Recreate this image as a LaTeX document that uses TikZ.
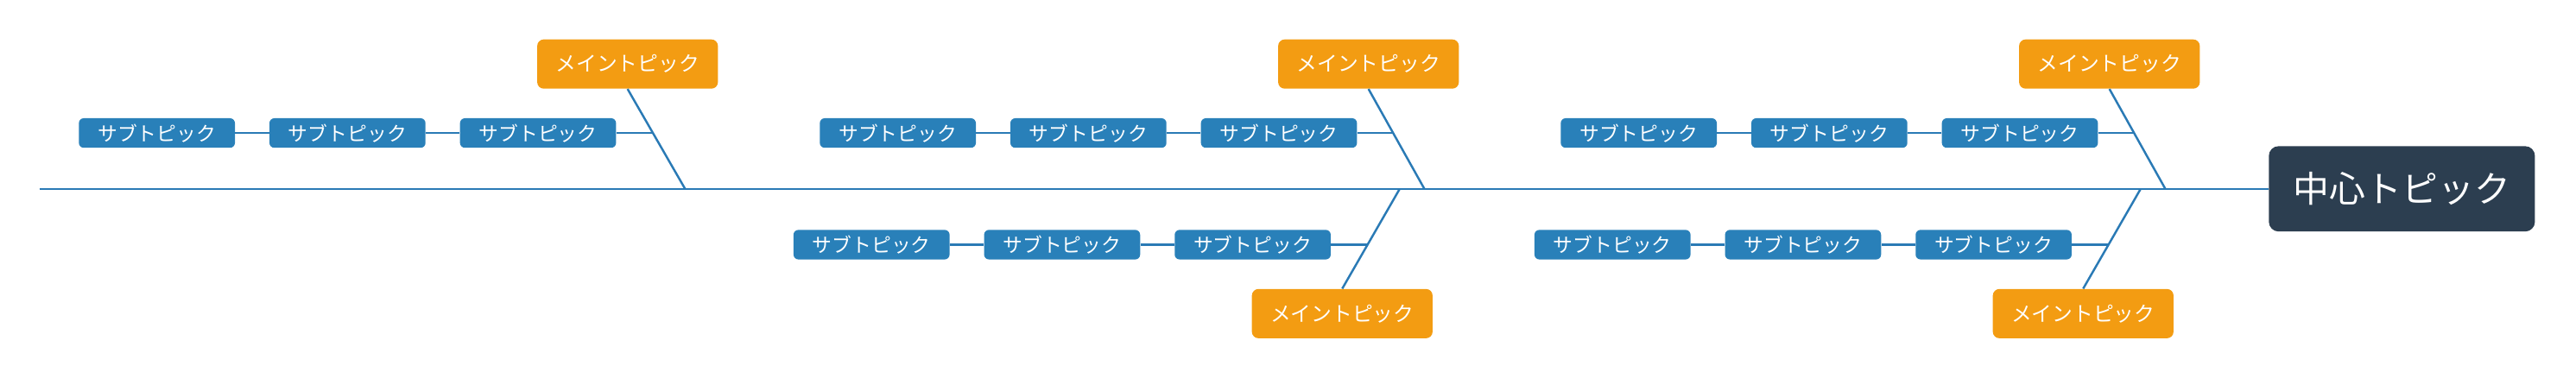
\documentclass[tikz,border=0pt]{standalone}
\usepackage{fontspec}
\newfontfamily\jp{Noto Sans CJK JP}
\begin{document}
\begin{tikzpicture}[x=1pt,y=-1pt,
  line/.style={draw=lineblue,line width=1.3pt},
  sub/.style={fill=subblue,rounded corners=3pt,minimum width=95pt,minimum height=18pt,inner sep=0pt,text=white,font=\jp\fontsize{12}{12}\selectfont},
  mainb/.style={fill=mainorange,rounded corners=4pt,minimum width=110pt,minimum height=30pt,inner sep=0pt,text=white,font=\jp\fontsize{12.5}{13}\selectfont},
  centerb/.style={fill=centerdark,rounded corners=6pt,minimum width=162pt,minimum height=52pt,inner sep=0pt,text=white,font=\jp\fontsize{22}{22}\selectfont}]
\definecolor{lineblue}{HTML}{2A7AB5}
\definecolor{subblue}{HTML}{2980B9}
\definecolor{mainorange}{HTML}{F39C12}
\definecolor{centerdark}{HTML}{2C3E50}
\useasboundingbox (0,0) rectangle (1568,238);
\node[centerb] (c) at (1462,115) {中心トピック};
\coordinate (s0) at (24,115);
\draw[line] (s0) -- (c.west);
% upper groups: main x, spine x, sub right edge
\foreach \n/\mx/\sx/\sr in {a/382/417/375, b/833/867/826, d/1284/1318/1277}{
  \node[mainb] (m\n) at (\mx,39) {メイントピック};
  \coordinate (p\n) at (\sx,115);
  \draw[line] (m\n.south) -- (p\n);
  \coordinate (q\n) at ({\mx+1+(\sx-\mx-1)*27/61},81);
  \node[sub] (u\n1) at (\sr-47.5,81) {サブトピック};
  \node[sub] (u\n2) at (\sr-163.5,81) {サブトピック};
  \node[sub] (u\n3) at (\sr-279.5,81) {サブトピック};
  \draw[line] (u\n1.east) -- (q\n);
  \draw[line] (u\n1.west) -- (u\n2.east);
  \draw[line] (u\n2.west) -- (u\n3.east);
}
% lower groups
\foreach \n/\mx/\sx/\sr in {e/817/852/810, f/1268/1303/1261}{
  \node[mainb] (m\n) at (\mx,191) {メイントピック};
  \coordinate (p\n) at (\sx,115);
  \draw[line] (m\n.north) -- (p\n);
  \coordinate (q\n) at ({\sx-(\sx-\mx)*34/61},149);
  \node[sub] (u\n1) at (\sr-47.5,149) {サブトピック};
  \node[sub] (u\n2) at (\sr-163.5,149) {サブトピック};
  \node[sub] (u\n3) at (\sr-279.5,149) {サブトピック};
  \draw[line] (u\n1.east) -- (q\n);
  \draw[line] (u\n1.west) -- (u\n2.east);
  \draw[line] (u\n2.west) -- (u\n3.east);
}
\end{tikzpicture}
\end{document}
